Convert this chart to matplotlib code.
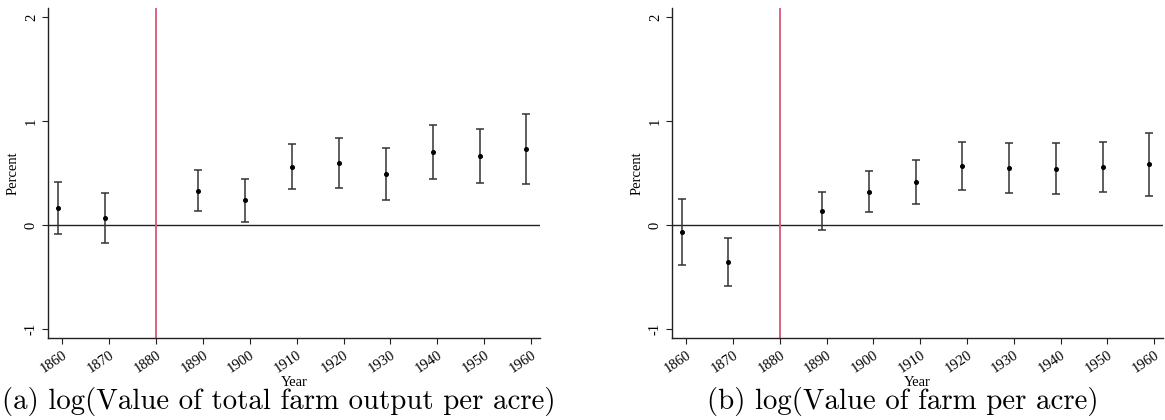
import numpy as np
import matplotlib
matplotlib.use("Agg")
import matplotlib.pyplot as plt

# estimated event-study coefficients
years = [1859, 1869, 1889, 1899, 1909, 1919, 1929, 1939, 1949, 1959]
tick_years = [1860, 1870, 1880, 1890, 1900, 1910, 1920, 1930, 1940, 1950, 1960]

coef_a = [0.163, 0.064, 0.330, 0.237, 0.561, 0.599, 0.487, 0.699, 0.663, 0.731]
lo_a = [-0.090, -0.173, 0.138, 0.029, 0.343, 0.359, 0.237, 0.439, 0.404, 0.394]
hi_a = [0.413, 0.308, 0.526, 0.445, 0.776, 0.840, 0.740, 0.959, 0.920, 1.070]

coef_b = [-0.067, -0.353, 0.132, 0.320, 0.416, 0.571, 0.546, 0.543, 0.553, 0.582]
lo_b = [-0.382, -0.584, -0.052, 0.122, 0.205, 0.338, 0.310, 0.300, 0.313, 0.280]
hi_b = [0.250, -0.125, 0.317, 0.522, 0.625, 0.801, 0.792, 0.786, 0.796, 0.880]

captions = ["(a) log(Value of total farm output per acre)",
            "(b) log(Value of farm per acre)"]

plt.rcParams['font.family'] = ['Liberation Serif', 'DejaVu Serif']

fig = plt.figure(figsize=(11.65, 4.2), dpi=100)
ax_a = fig.add_axes([48.3 / 1165, 82 / 420, 491.7 / 1165, 330 / 420])
ax_b = fig.add_axes([672.3 / 1165, 82 / 420, 490.7 / 1165, 330 / 420])


def draw_panel(ax, coef, lo, hi):
    coef = np.array(coef)
    err = [coef - np.array(lo), np.array(hi) - coef]
    ax.axhline(0, color='#222222', lw=1.0, zorder=1)
    ax.axvline(1880, color='#d6587b', lw=1.3, zorder=1)
    ax.errorbar(years, coef, yerr=err, fmt='o', ms=2.6, color='black',
                ecolor='#333333', elinewidth=1.1, capsize=3, capthick=1.1,
                zorder=3)
    ax.set_xlim(1857, 1961.9)
    ax.set_ylim(-1.087, 2.087)
    ax.set_xticks(tick_years)
    ax.set_xticklabels([str(t) for t in tick_years], rotation=34, ha='right',
                       rotation_mode='anchor', fontsize=10.5)
    ax.set_yticks([-1, 0, 1, 2])
    ax.set_yticklabels(['-1', '0', '1', '2'], rotation=90, va='center',
                       fontsize=10.5)
    ax.tick_params(length=4.5, width=0.8, color='#222222', pad=3)
    for s in ['top', 'right']:
        ax.spines[s].set_visible(False)
    for s in ['left', 'bottom']:
        ax.spines[s].set_linewidth(1.0)
        ax.spines[s].set_color('#222222')
    ax.set_ylabel('Percent', fontsize=10.5, labelpad=4)
    ax.set_xlabel('Year', fontsize=10.5, labelpad=0)


draw_panel(ax_a, coef_a, lo_a, hi_a)
draw_panel(ax_b, coef_b, lo_b, hi_b)

fig.text(279 / 1165, 1 - 401 / 420, captions[0], family='cmr10',
         fontsize=20.8, ha='center', va='center')
fig.text(903 / 1165, 1 - 401 / 420, captions[1], family='cmr10',
         fontsize=20.8, ha='center', va='center')

fig.savefig('out.png', dpi=100)
